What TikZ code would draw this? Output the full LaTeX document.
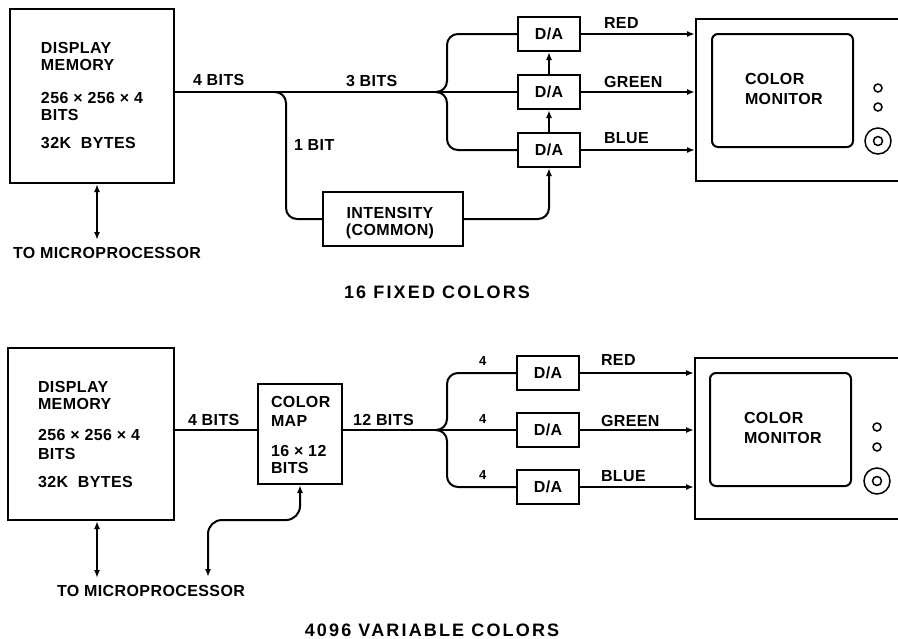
\documentclass[tikz,border=0pt]{standalone}
\usepackage{fontspec}
\setmainfont{Liberation Sans}
\newfontfamily\lblfont[LetterSpace=2.5]{Liberation Sans}
\newfontfamily\capfont[LetterSpace=12]{Liberation Sans}
\usetikzlibrary{arrows.meta}
\begin{document}
\begin{tikzpicture}[x=1pt,y=-1pt,line width=2pt,
  >={Latex[length=8pt,width=6pt]},
  lbl/.style={anchor=base west,inner sep=0pt,font=\lblfont\bfseries\fontsize{16}{19}\selectfont},
  clbl/.style={lbl,anchor=base},
  small/.style={lbl,font=\lblfont\bfseries\fontsize{13}{16}\selectfont},
  captxt/.style={anchor=base,inner sep=0pt,font=\capfont\bfseries\fontsize{18}{21}\selectfont},
  blk/.style={draw,inner sep=0pt},
  da/.style={blk,minimum width=62pt,minimum height=34pt,font=\lblfont\bfseries\fontsize{16}{19}\selectfont},
  screen/.style={draw,rounded corners=6pt,inner sep=0pt,minimum width=141pt,minimum height=113pt},
  knob/.style={draw,circle,inner sep=0pt,line width=1.5pt},
  wire/.style={rounded corners=11pt}]
\useasboundingbox (0,0) rectangle (898,638);

% ================= top: 16 fixed colors =================
\node[blk,minimum width=164pt,minimum height=174pt] (mem1) at (92,96) {};
\node[lbl] (m1a) at (40,53) {DISPLAY};
\node[lbl] (m1b) at (40,70) {MEMORY};
\node[lbl] (m1c) at (40,103) {256 × 256 × 4};
\node[lbl] (m1d) at (40,120) {BITS};
\node[lbl] (m1e) at (40,148) {32K\ \ BYTES};
\coordinate (up1) at (97,240);
\draw[<->] (up1 |- mem1.south) -- (up1);
\node[lbl] (tm1) at (12,258) {TO MICROPROCESSOR};

\node[da] (da1) at (549,34) {D/A};
\node[da] (da2) at (549,92) {D/A};
\node[da] (da3) at (549,150) {D/A};
\node[blk,minimum width=140pt,minimum height=54pt] (int) at (393,219) {};
\node[clbl] (int1) at (390,218) {INTENSITY};
\node[clbl] (int2) at (390,235) {(COMMON)};

\coordinate (br1) at (435,92);
\coordinate (j1) at (274,92);
\coordinate (bx1) at (447,92);
\coordinate (c1) at (286,92);
\draw (mem1.east |- br1) -- (br1) -- (da2.west);
\draw[wire] (j1) -- (c1) -- (c1 |- int.west) -- (int.west);
\draw[wire] (br1) -- (bx1) -- (bx1 |- da1.west) -- (da1.west);
\draw[wire] (br1) -- (bx1) -- (bx1 |- da3.west) -- (da3.west);
\draw[wire,->] (int.east) -| (da3.south);
\draw[->] (da3.north) -- (da2.south);
\draw[->] (da2.north) -- (da1.south);
\node[lbl] (l4b) at (192,85) {4 BITS};
\node[lbl] (l3b) at (345,86) {3 BITS};
\node[lbl] (l1b) at (293,150) {1 BIT};

\node[blk,minimum width=210pt,minimum height=162pt] (mon1) at (801,100) {};
\node[screen] (scr1) at (782.5,90.5) {};
\node[lbl] (cm1a) at (744,84) {COLOR};
\node[lbl] (cm1b) at (744,104) {MONITOR};
\node[knob,minimum size=8pt] (k1) at (878,88) {};
\node[knob,minimum size=8pt] (k2) at (878,107) {};
\node[knob,minimum size=26pt] (k3) at (878,141) {};
\node[knob,minimum size=9pt] (k3i) at (878,141) {};

\draw[->] (da1.east) -- (da1.east -| mon1.west);
\draw[->] (da2.east) -- (da2.east -| mon1.west);
\draw[->] (da3.east) -- (da3.east -| mon1.west);
\node[lbl] (red1) at (603,28) {RED};
\node[lbl] (grn1) at (603,87) {GREEN};
\node[lbl] (blu1) at (603,143) {BLUE};

\node[captxt] (cap1) at (437,298) {16 FIXED COLORS};

% ================= bottom: 4096 variable colors =================
\node[blk,minimum width=166pt,minimum height=172pt] (mem2) at (91,434) {};
\node[lbl] (m2a) at (37,392) {DISPLAY};
\node[lbl] (m2b) at (37,409) {MEMORY};
\node[lbl] (m2c) at (37,440) {256 × 256 × 4};
\node[lbl] (m2d) at (37,459) {BITS};
\node[lbl] (m2e) at (37,487) {32K\ \ BYTES};
\coordinate (up2) at (97,578);
\draw[<->] (up2 |- mem2.south) -- (up2);
\node[lbl] (tm2) at (56,596) {TO MICROPROCESSOR};

\node[blk,minimum width=84pt,minimum height=100pt] (cmap) at (300,434) {};
\node[lbl] (cma) at (270,407) {COLOR};
\node[lbl] (cmb) at (270,426) {MAP};
\node[lbl] (cmc) at (270,456) {16 × 12};
\node[lbl] (cmd) at (270,473) {BITS};
\coordinate (c2) at (300,520);
\coordinate (mp2) at (208,577);
\draw[<->,rounded corners=14pt] (cmap.south) -- (c2) -- (mp2 |- c2) -- (mp2);

\node[da] (da4) at (548,373) {D/A};
\node[da] (da5) at (548,430) {D/A};
\node[da] (da6) at (548,487) {D/A};
\coordinate (br2) at (435,430);
\coordinate (bx2) at (447,430);
\draw (br2 -| mem2.east) -- (br2 -| cmap.west);
\draw (br2 -| cmap.east) -- (br2) -- (da5.west);
\draw[wire] (br2) -- (bx2) -- (bx2 |- da4.west) -- (da4.west);
\draw[wire] (br2) -- (bx2) -- (bx2 |- da6.west) -- (da6.west);
\node[lbl] (l4c) at (187,425) {4 BITS};
\node[lbl] (l12) at (352,425) {12 BITS};
\node[small] (n4a) at (478,365) {4};
\node[small] (n4b) at (478,423) {4};
\node[small] (n4c) at (478,479) {4};

\node[blk,minimum width=210pt,minimum height=161pt] (mon2) at (800,438.5) {};
\node[screen] (scr2) at (780.5,429.5) {};
\node[lbl] (cm2a) at (743,423) {COLOR};
\node[lbl] (cm2b) at (743,443) {MONITOR};
\node[knob,minimum size=8pt] (k4) at (877,427) {};
\node[knob,minimum size=8pt] (k5) at (877,447) {};
\node[knob,minimum size=26pt] (k6) at (877,481) {};
\node[knob,minimum size=9pt] (k6i) at (877,481) {};

\draw[->] (da4.east) -- (da4.east -| mon2.west);
\draw[->] (da5.east) -- (da5.east -| mon2.west);
\draw[->] (da6.east) -- (da6.east -| mon2.west);
\node[lbl] (red2) at (600,365) {RED};
\node[lbl] (grn2) at (600,426) {GREEN};
\node[lbl] (blu2) at (600,481) {BLUE};

\node[captxt] (cap2) at (432,636) {4096 VARIABLE COLORS};
\end{tikzpicture}
\end{document}
